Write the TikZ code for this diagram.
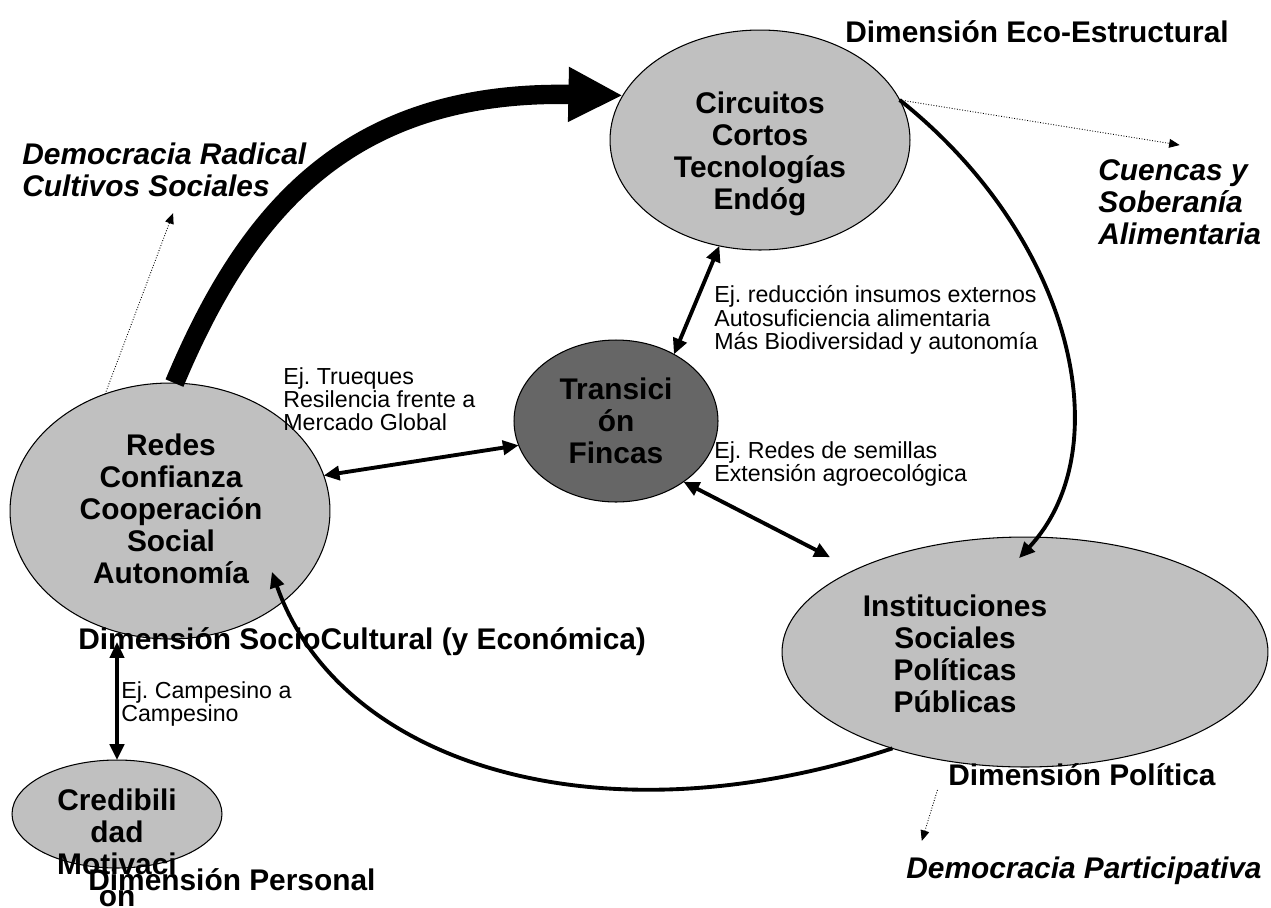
\documentclass[tikz,border=0pt]{standalone}
\usepackage{fontspec}
\setmainfont{Liberation Sans}
\usetikzlibrary{shapes.geometric,arrows.meta}

\definecolor{blobgray}{HTML}{C0C0C0}
\definecolor{coregray}{HTML}{666666}
\newcommand\blobfont{\fontsize{17}{18.2}\selectfont\bfseries}
\newcommand\goalfont{\fontsize{17}{18.2}\selectfont\bfseries\itshape}
\newcommand\ejfont{\fontsize{13.2}{13.2}\selectfont}
\frenchspacing

\begin{document}
\begin{tikzpicture}[x=0.02cm, y=-0.02cm,
    blob/.style={ellipse, draw, line width=0.6pt, fill=blobgray, inner sep=0pt, outer sep=0pt},
    blobtext/.style={font=\blobfont, align=center, inner sep=0pt},
    dimlabel/.style={font=\blobfont, anchor=west, inner sep=0pt},
    goal/.style={font=\goalfont, align=left, anchor=west, inner sep=0pt},
    ejemplo/.style={font=\ejfont, align=left, anchor=west, inner sep=0pt},
    link/.style={line width=2.2pt, {Triangle[length=9pt,width=8pt]}-{Triangle[length=9pt,width=8pt]}},
    flow/.style={line width=2.2pt, -{Triangle[length=9pt,width=8pt]}},
    hint/.style={densely dotted, line width=0.5pt, -{Triangle[length=6pt,width=5pt]}}]
    \useasboundingbox (0,0) rectangle (1271,907);

    % dimensiones
    \node[blob, minimum width=6cm, minimum height=4.4cm] (circ) at (760,140) {};
    \node[blob, minimum width=6.4cm, minimum height=5.12cm] (redes) at (170,511) {};
    \node[blob, fill=coregray, minimum width=4.08cm, minimum height=3.24cm] (trans) at (616,421) {};
    \node[blob, minimum width=9.72cm, minimum height=4.6cm] (inst) at (1025,652) {};
    \node[blob, minimum width=4.2cm, minimum height=2.16cm] (cred) at (117,814) {};

    \node[blobtext] (circ-t) at (760,154) {Circuitos\\Cortos\\Tecnologías\\Endóg};
    \node[blobtext] (redes-t) at (171,509) {Redes\\Confianza\\Cooperación\\Social\\Autonomía};
    \node[blobtext] (trans-t) at (616,421) {Transici\\ón\\Fincas};
    \node[blobtext] (inst-t) at (955,654) {Instituciones\\Sociales\\Políticas\\Públicas};
    \node[blobtext] (cred-t) at (117,848) {Credibili\\dad\\Motivaci\\on};

    \node[dimlabel] (dimeco) at (845,32) {Dimensión Eco-Estructural};
    \node[dimlabel] (dimsoc) at (78,642) {Dimensión SocioCultural (y Económica)};
    \node[dimlabel] (dimpol) at (948,775) {Dimensión Política};
    \node[dimlabel] (dimper) at (88,880) {Dimensión Personal};

    \node[goal] (demrad) at (22,170) {Democracia Radical\\Cultivos Sociales};
    \node[goal] (cuen) at (1098,202) {Cuencas y\\Soberanía\\Alimentaria};
    \node[goal] (dempar) at (906,871) {Democracia Participativa};

    \node[ejemplo] (ej-truq) at (283,399) {Ej. Trueques\\Resilencia frente a\\Mercado Global};
    \node[ejemplo] (ej-insu) at (714,320) {Ej. reducción insumos externos\\Autosuficiencia alimentaria\\Más Biodiversidad y autonomía};
    \node[ejemplo] (ej-semi) at (714,464) {Ej. Redes de semillas\\Extensión agroecológica};
    \node[ejemplo] (ej-camp) at (121,704) {Ej. Campesino a\\Campesino};

    % ciclo
    \draw[line width=11pt, -{Triangle[length=31pt,width=29pt]}] (redes.88) .. controls (245,215) and (345,90) .. (circ.162);
    \draw[flow] (circ.16) .. controls (1075,240) and (1120,450) .. ([yshift=-12pt]inst.93);
    \draw[flow] (inst.216) .. controls (600,845) and (340,765) .. ([shift={(-26,-16)}]redes.329);

    % intercambios con la finca
    \draw[link] (circ.249) -- (trans.49);
    \draw[link] (redes.13) -- (trans.194);
    \draw[link] (trans.318) -- ([shift={(-18,-16)}]inst.156);
    \draw[link] (cred.north |- dimsoc.center) -- (cred.north);

    \draw[hint] (circ.16) -- ([yshift=8pt]cuen.north);
    \draw[hint] (redes.119) -- ([xshift=5pt,yshift=-9pt]demrad.south);
    \draw[hint] ([xshift=-6pt,yshift=-2pt]dimpol.south west) -- ([xshift=9pt,yshift=9pt]dempar.north west);
\end{tikzpicture}
\end{document}
